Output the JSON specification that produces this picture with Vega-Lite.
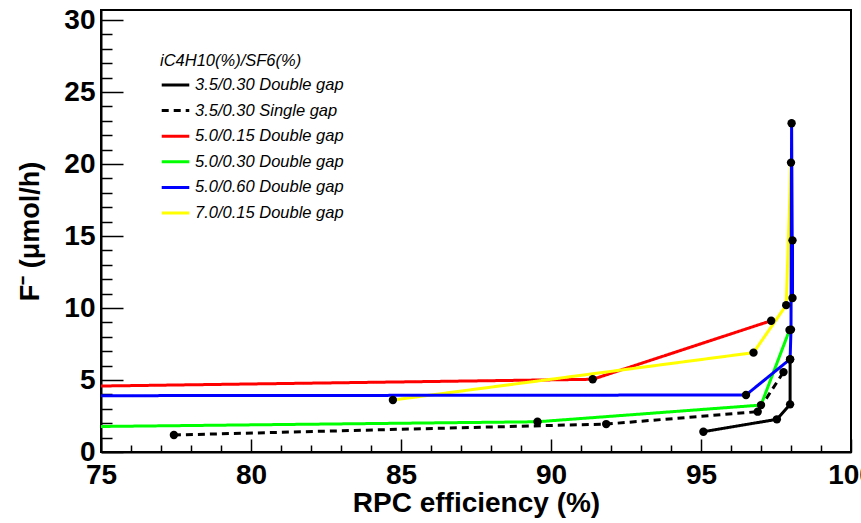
{
  "$schema": "https://vega.github.io/schema/vega-lite/v6.json",
  "width": 750,
  "height": 442,
  "autosize": {"type": "none"},
  "padding": {"left": 101, "top": 10, "right": 10, "bottom": 71},
  "background": "white",
  "config": {
    "view": {"stroke": "black", "strokeWidth": 2},
    "font": "Liberation Sans",
    "axis": {
      "domainColor": "black",
      "domainWidth": 2,
      "ticks": false,
      "grid": true,
      "gridColor": "black",
      "gridWidth": 1.5,
      "gridOpacity": 1,
      "labelFont": "Liberation Sans",
      "labelFontWeight": "bold",
      "labelFontSize": 28,
      "labelColor": "black",
      "titleFont": "Liberation Sans",
      "titleFontWeight": "bold",
      "titleFontSize": 28,
      "titleColor": "black"
    }
  },
  "data": {
    "values": [
      {"s": "3.5/0.30 Double gap", "x": 95.08, "y": 1.41},
      {"s": "3.5/0.30 Double gap", "x": 97.53, "y": 2.27},
      {"s": "3.5/0.30 Double gap", "x": 97.97, "y": 3.31},
      {"s": "3.5/0.30 Double gap", "x": 97.97, "y": 6.42},
      {"s": "3.5/0.30 Single gap", "x": 77.43, "y": 1.18},
      {"s": "3.5/0.30 Single gap", "x": 91.84, "y": 1.94},
      {"s": "3.5/0.30 Single gap", "x": 96.89, "y": 2.8},
      {"s": "3.5/0.30 Single gap", "x": 97.75, "y": 5.55},
      {"s": "5.0/0.15 Double gap", "x": 70.0, "y": 4.44},
      {"s": "5.0/0.15 Double gap", "x": 91.39, "y": 5.05},
      {"s": "5.0/0.15 Double gap", "x": 97.34, "y": 9.12},
      {"s": "5.0/0.30 Double gap", "x": 70.0, "y": 1.66},
      {"s": "5.0/0.30 Double gap", "x": 89.55, "y": 2.1},
      {"s": "5.0/0.30 Double gap", "x": 97.0, "y": 3.26},
      {"s": "5.0/0.30 Double gap", "x": 97.95, "y": 8.47},
      {"s": "7.0/0.15 Double gap", "x": 84.73, "y": 3.61},
      {"s": "7.0/0.15 Double gap", "x": 96.75, "y": 6.9},
      {"s": "7.0/0.15 Double gap", "x": 97.84, "y": 10.2},
      {"s": "7.0/0.15 Double gap", "x": 98.0, "y": 20.1},
      {"s": "5.0/0.60 Double gap", "x": 70.0, "y": 3.9},
      {"s": "5.0/0.60 Double gap", "x": 96.5, "y": 3.96},
      {"s": "5.0/0.60 Double gap", "x": 97.97, "y": 6.45},
      {"s": "5.0/0.60 Double gap", "x": 98.0, "y": 8.5},
      {"s": "5.0/0.60 Double gap", "x": 98.05, "y": 10.7},
      {"s": "5.0/0.60 Double gap", "x": 98.05, "y": 14.7},
      {"s": "5.0/0.60 Double gap", "x": 98.02, "y": 22.83}
    ]
  },
  "encoding": {
    "x": {
      "field": "x", "type": "quantitative",
      "scale": {"domain": [75, 100], "nice": false, "zero": false},
      "axis": {
        "title": "RPC efficiency (%)",
        "values": [75,76,77,78,79,80,81,82,83,84,85,86,87,88,89,90,91,92,93,94,95,96,97,98,99,100],
        "labelExpr": "datum.value % 5 === 0 ? datum.label : ''",
        "gridDash": {"condition": {"test": "datum.value % 5 === 0", "value": [13, 429]}, "value": [7, 435]},
        "gridDashOffset": {"condition": {"test": "datum.value % 5 === 0", "value": 13}, "value": 7},
        "labelPadding": 9,
        "titlePadding": 0,
        "labelFlush": false,
        "labelOverlap": false
      }
    },
    "y": {
      "field": "y", "type": "quantitative",
      "scale": {"domain": [0, 30.7], "nice": false, "zero": true},
      "axis": {
        "title": "F⁻ (μmol/h)",
        "titleFontSize": 27,
        "values": [0,1,2,3,4,5,6,7,8,9,10,11,12,13,14,15,16,17,18,19,20,21,22,23,24,25,26,27,28,29,30],
        "labelExpr": "datum.value % 5 === 0 ? datum.label : ''",
        "gridDash": {"condition": {"test": "datum.value % 5 === 0", "value": [22, 2000]}, "value": [11, 2000]},
        "labelPadding": 6,
        "titlePadding": 19,
        "labelFlush": false,
        "labelOverlap": false
      }
    }
  },
  "layer": [
    {
      "mark": {"type": "line", "strokeWidth": 3, "clip": true},
      "encoding": {
        "color": {
          "field": "s", "type": "nominal",
          "scale": {
            "domain": ["3.5/0.30 Double gap", "3.5/0.30 Single gap", "5.0/0.15 Double gap", "5.0/0.30 Double gap", "5.0/0.60 Double gap", "7.0/0.15 Double gap"],
            "range": ["#000000", "#000000", "#ff0000", "#00ff00", "#0000ff", "#ffff00"]
          },
          "legend": {
            "title": "iC4H10(%)/SF6(%)",
            "orient": "none",
            "legendX": 59,
            "legendY": 43,
            "titleFont": "Liberation Sans",
            "titleFontStyle": "italic",
            "titleFontWeight": "normal",
            "titleFontSize": 16.5,
            "titleColor": "black",
            "titlePadding": 0,
            "labelFont": "Liberation Sans",
            "labelFontStyle": "italic",
            "labelFontSize": 16.5,
            "labelColor": "black",
            "labelOffset": 4,
            "symbolType": "stroke",
            "symbolSize": 760,
            "symbolStrokeWidth": 3,
            "rowPadding": 1.6
          }
        },
        "strokeDash": {
          "field": "s", "type": "nominal",
          "scale": {
            "domain": ["3.5/0.30 Double gap", "3.5/0.30 Single gap", "5.0/0.15 Double gap", "5.0/0.30 Double gap", "5.0/0.60 Double gap", "7.0/0.15 Double gap"],
            "range": [[1, 0], [7, 5], [1, 0], [1, 0], [1, 0], [1, 0]]
          },
          "legend": {"title": "iC4H10(%)/SF6(%)"}
        }
      }
    },
    {
      "mark": {"type": "point", "filled": true, "shape": "circle", "size": 70, "color": "black", "opacity": 1, "clip": true}
    }
  ]
}
